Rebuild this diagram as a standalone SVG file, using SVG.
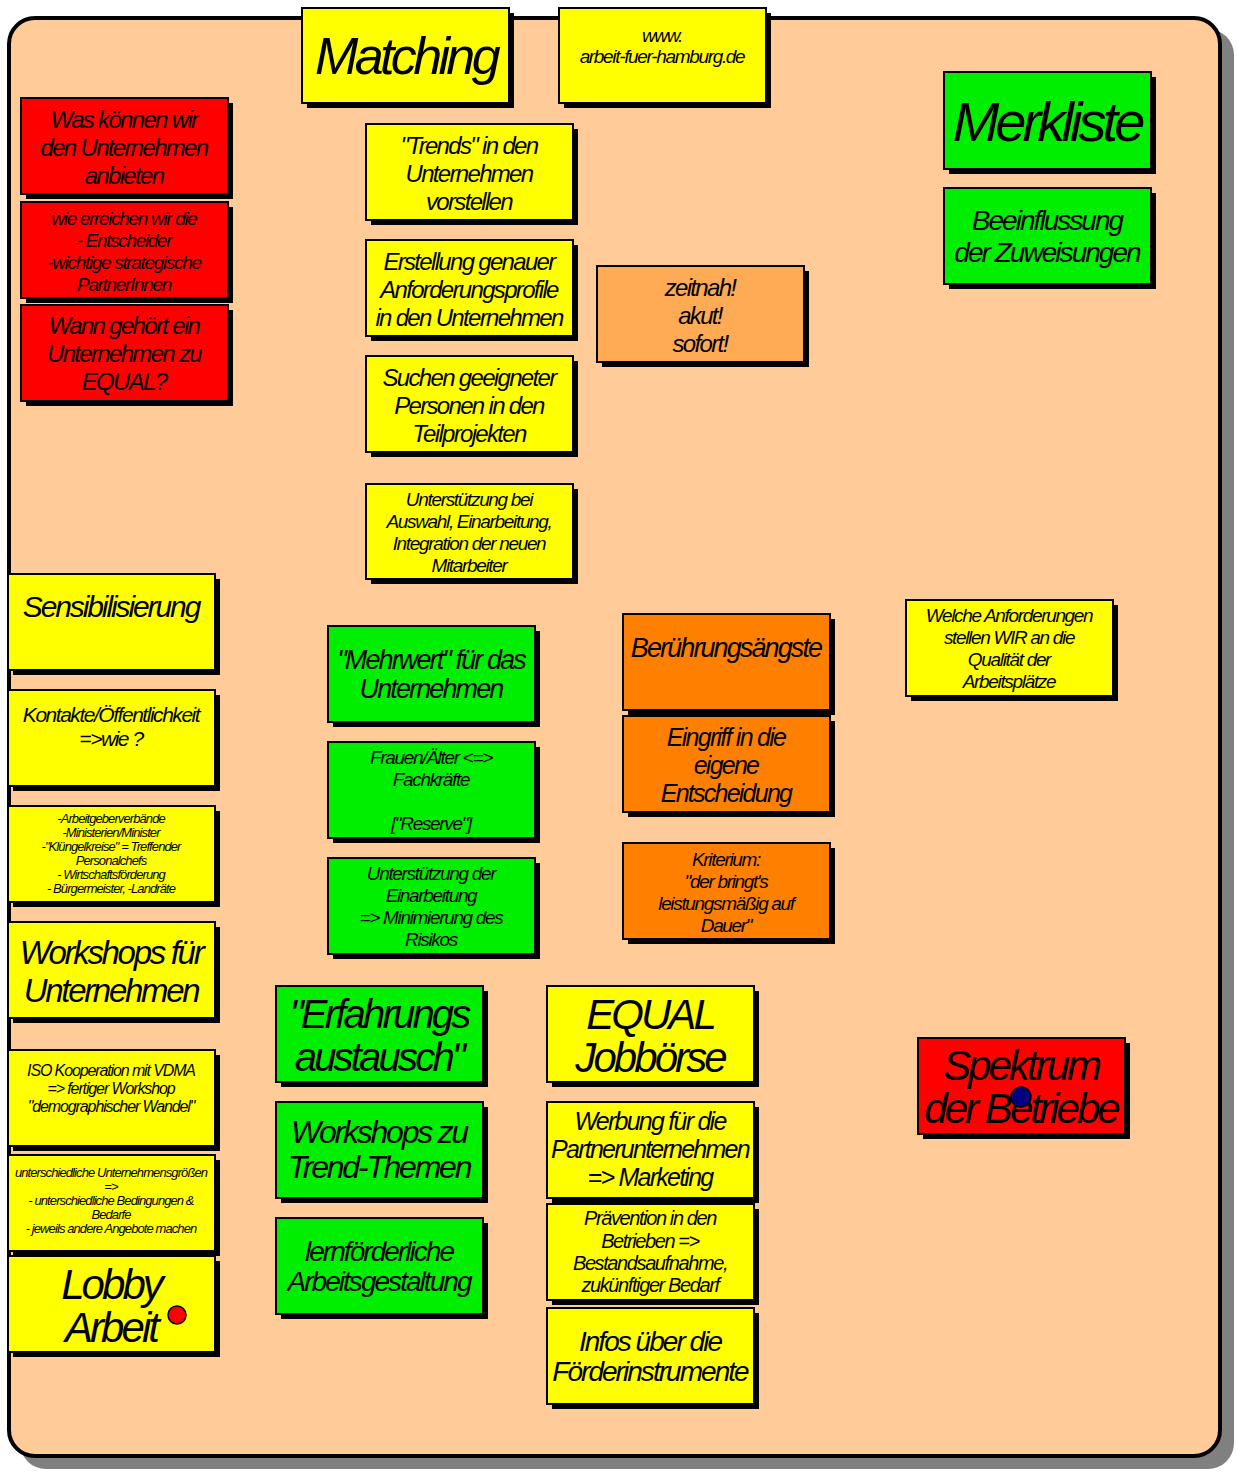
<svg xmlns="http://www.w3.org/2000/svg" width="1237" height="1473" viewBox="0 0 1237 1473">
<style>
text{font-family:"Liberation Sans",Arial,sans-serif;font-style:italic;text-anchor:middle;dominant-baseline:central;fill:#000;letter-spacing:-0.07em}
.sh{fill:#000}
.b{stroke:#000;stroke-width:2}
.y{fill:#FFFF00}
.g{fill:#00EE00}
.r{fill:#FF0000}
.o{fill:#FF8000}
.lo{fill:#FFAA55}
</style>
<rect x="20" y="29" width="1214" height="1440" rx="26" fill="#808080"/>
<rect x="9" y="18" width="1211" height="1438" rx="26" fill="#FFCC99" stroke="#000" stroke-width="4"/>

<g id="matching"><rect class="sh" x="307" y="13" width="207" height="95"/><rect class="b y" x="302" y="8" width="207" height="95"/><text x="406" y="56" font-size="52">Matching</text></g>
<g id="www"><rect class="sh" x="564" y="13" width="207" height="95"/><rect class="b y" x="559" y="8" width="207" height="95"/><text x="662" y="35" font-size="19">www.</text><text x="662" y="56" font-size="19">arbeit-fuer-hamburg.de</text></g>
<g id="merkliste"><rect class="sh" x="949" y="77" width="207" height="97"/><rect class="b g" x="944" y="72" width="207" height="97"/><text x="1047" y="121" font-size="56">Merkliste</text></g>
<g id="beeinflussung"><rect class="sh" x="949" y="193" width="207" height="96"/><rect class="b g" x="944" y="188" width="207" height="96"/><text x="1047" y="220" font-size="28">Beeinflussung</text><text x="1047" y="252" font-size="28">der Zuweisungen</text></g>

<g id="was-koennen"><rect class="sh" x="26" y="103" width="207" height="96"/><rect class="b r" x="21" y="98" width="207" height="96"/><text x="124" y="119" font-size="24">Was können wir</text><text x="124" y="147" font-size="24">den Unternehmen</text><text x="124" y="175" font-size="24">anbieten</text></g>
<g id="wie-erreichen"><rect class="sh" x="26" y="207" width="207" height="96"/><rect class="b r" x="21" y="202" width="207" height="96"/><text x="124" y="218" font-size="19">wie erreichen wir die</text><text x="124" y="240" font-size="19">- Entscheider</text><text x="124" y="262" font-size="19">-wichtige strategische</text><text x="124" y="284" font-size="19">PartnerInnen</text></g>
<g id="wann-gehoert"><rect class="sh" x="26" y="310" width="207" height="96"/><rect class="b r" x="21" y="305" width="207" height="96"/><text x="124" y="325" font-size="24">Wann gehört ein</text><text x="124" y="353" font-size="24">Unternehmen zu</text><text x="124" y="381" font-size="24">EQUAL?</text></g>

<g id="trends"><rect class="sh" x="371" y="129" width="207" height="96"/><rect class="b y" x="366" y="124" width="207" height="96"/><text x="469" y="145" font-size="24">"Trends" in den</text><text x="469" y="173" font-size="24">Unternehmen</text><text x="469" y="201" font-size="24">vorstellen</text></g>
<g id="erstellung"><rect class="sh" x="371" y="245" width="207" height="96"/><rect class="b y" x="366" y="240" width="207" height="96"/><text x="469" y="261" font-size="24">Erstellung genauer</text><text x="469" y="289" font-size="24">Anforderungsprofile</text><text x="469" y="317" font-size="24">in den Unternehmen</text></g>
<g id="zeitnah"><rect class="sh" x="602" y="271" width="207" height="96"/><rect class="b lo" x="597" y="266" width="207" height="96"/><text x="700" y="287" font-size="24">zeitnah!</text><text x="700" y="315" font-size="24">akut!</text><text x="700" y="343" font-size="24">sofort!</text></g>
<g id="suchen"><rect class="sh" x="371" y="361" width="207" height="96"/><rect class="b y" x="366" y="356" width="207" height="96"/><text x="469" y="377" font-size="24">Suchen geeigneter</text><text x="469" y="405" font-size="24">Personen in den</text><text x="469" y="433" font-size="24">Teilprojekten</text></g>
<g id="unterstuetzung-auswahl"><rect class="sh" x="371" y="489" width="207" height="95"/><rect class="b y" x="366" y="484" width="207" height="95"/><text x="469" y="499" font-size="19">Unterstützung bei</text><text x="469" y="521" font-size="19">Auswahl, Einarbeitung,</text><text x="469" y="543" font-size="19">Integration der neuen</text><text x="469" y="565" font-size="19">Mitarbeiter</text></g>

<g id="sensibilisierung"><rect class="sh" x="13" y="579" width="207" height="96"/><rect class="b y" x="8" y="574" width="207" height="96"/><text x="111" y="606" font-size="30">Sensibilisierung</text></g>
<g id="kontakte"><rect class="sh" x="13" y="695" width="207" height="96"/><rect class="b y" x="8" y="690" width="207" height="96"/><text x="111" y="714" font-size="21">Kontakte/Öffentlichkeit</text><text x="111" y="738" font-size="21">=&gt;wie ?</text></g>
<g id="arbeitgeber"><rect class="sh" x="13" y="811" width="207" height="96"/><rect class="b y" x="8" y="806" width="207" height="96"/><text x="111" y="818" font-size="13">-Arbeitgeberverbände</text><text x="111" y="832" font-size="13">-Ministerien/Minister</text><text x="111" y="846" font-size="13">-"Klüngelkreise" = Treffender</text><text x="111" y="860" font-size="13">Personalchefs</text><text x="111" y="874" font-size="13">- Wirtschaftsförderung</text><text x="111" y="888" font-size="13">- Bürgermeister, -Landräte</text></g>
<g id="workshops-unternehmen"><rect class="sh" x="13" y="927" width="207" height="96"/><rect class="b y" x="8" y="922" width="207" height="96"/><text x="111" y="952" font-size="33">Workshops für</text><text x="111" y="990" font-size="33">Unternehmen</text></g>
<g id="iso"><rect class="sh" x="13" y="1055" width="207" height="96"/><rect class="b y" x="8" y="1050" width="207" height="96"/><text x="111" y="1070" font-size="16">ISO Kooperation mit VDMA</text><text x="111" y="1088" font-size="16">=&gt; fertiger Workshop</text><text x="111" y="1106" font-size="16">"demographischer Wandel"</text></g>
<g id="unterschiedliche"><rect class="sh" x="13" y="1160" width="207" height="96"/><rect class="b y" x="8" y="1155" width="207" height="96"/><text x="111" y="1172" font-size="13">unterschiedliche Unternehmensgrößen</text><text x="111" y="1186" font-size="13">=&gt;</text><text x="111" y="1200" font-size="13">- unterschiedliche Bedingungen &amp;</text><text x="111" y="1214" font-size="13">Bedarfe</text><text x="111" y="1228" font-size="13">- jeweils andere Angebote machen</text></g>
<g id="lobby"><rect class="sh" x="13" y="1261" width="207" height="96"/><rect class="b y" x="8" y="1256" width="207" height="96"/><text x="111" y="1284" font-size="42">Lobby</text><text x="111" y="1327" font-size="42">Arbeit</text><circle cx="177" cy="1315" r="9" fill="#FF0000" stroke="#000" stroke-width="1.5"/></g>

<g id="mehrwert"><rect class="sh" x="333" y="631" width="207" height="96"/><rect class="b g" x="328" y="626" width="207" height="96"/><text x="431" y="660" font-size="27">"Mehrwert" für das</text><text x="431" y="689" font-size="27">Unternehmen</text></g>
<g id="frauen"><rect class="sh" x="333" y="747" width="207" height="96"/><rect class="b g" x="328" y="742" width="207" height="96"/><text x="431" y="757" font-size="19">Frauen/Älter &lt;=&gt;</text><text x="431" y="779" font-size="19">Fachkräfte</text><text x="431" y="823" font-size="19">["Reserve"]</text></g>
<g id="unterstuetzung-einarbeitung"><rect class="sh" x="333" y="863" width="207" height="96"/><rect class="b g" x="328" y="858" width="207" height="96"/><text x="431" y="873" font-size="19">Unterstützung der</text><text x="431" y="895" font-size="19">Einarbeitung</text><text x="431" y="917" font-size="19">=&gt; Minimierung des</text><text x="431" y="939" font-size="19">Risikos</text></g>

<g id="beruehrungsaengste"><rect class="sh" x="628" y="619" width="207" height="96"/><rect class="b o" x="623" y="614" width="207" height="96"/><text x="726" y="648" font-size="27">Berührungsängste</text></g>
<g id="eingriff"><rect class="sh" x="628" y="721" width="207" height="96"/><rect class="b o" x="623" y="716" width="207" height="96"/><text x="726" y="737" font-size="25">Eingriff in die</text><text x="726" y="765" font-size="25">eigene</text><text x="726" y="793" font-size="25">Entscheidung</text></g>
<g id="kriterium"><rect class="sh" x="628" y="848" width="207" height="96"/><rect class="b o" x="623" y="843" width="207" height="96"/><text x="726" y="859" font-size="19">Kriterium:</text><text x="726" y="881" font-size="19">"der bringt's</text><text x="726" y="903" font-size="19">leistungsmäßig auf</text><text x="726" y="925" font-size="19">Dauer"</text></g>
<g id="welche-anforderungen"><rect class="sh" x="911" y="605" width="207" height="96"/><rect class="b y" x="906" y="600" width="207" height="96"/><text x="1009" y="615" font-size="19">Welche Anforderungen</text><text x="1009" y="637" font-size="19">stellen WIR an die</text><text x="1009" y="659" font-size="19">Qualität der</text><text x="1009" y="681" font-size="19">Arbeitsplätze</text></g>

<g id="erfahrungsaustausch"><rect class="sh" x="281" y="991" width="207" height="96"/><rect class="b g" x="276" y="986" width="207" height="96"/><text x="379" y="1014" font-size="40">"Erfahrungs</text><text x="379" y="1057" font-size="40">austausch"</text></g>
<g id="workshops-trend"><rect class="sh" x="281" y="1107" width="207" height="96"/><rect class="b g" x="276" y="1102" width="207" height="96"/><text x="379" y="1132" font-size="32">Workshops zu</text><text x="379" y="1167" font-size="32">Trend-Themen</text></g>
<g id="lernfoerderliche"><rect class="sh" x="281" y="1223" width="207" height="96"/><rect class="b g" x="276" y="1218" width="207" height="96"/><text x="379" y="1251" font-size="28">lernförderliche</text><text x="379" y="1281" font-size="28">Arbeitsgestaltung</text></g>

<g id="equal-jobboerse"><rect class="sh" x="552" y="991" width="207" height="96"/><rect class="b y" x="547" y="986" width="207" height="96"/><text x="650" y="1014" font-size="42">EQUAL</text><text x="650" y="1057" font-size="42">Jobbörse</text></g>
<g id="werbung"><rect class="sh" x="552" y="1107" width="207" height="96"/><rect class="b y" x="547" y="1102" width="207" height="96"/><text x="650" y="1121" font-size="25">Werbung für die</text><text x="650" y="1149" font-size="25">Partnerunternehmen</text><text x="650" y="1177" font-size="25">=&gt; Marketing</text></g>
<g id="praevention"><rect class="sh" x="552" y="1209" width="207" height="96"/><rect class="b y" x="547" y="1204" width="207" height="96"/><text x="650" y="1218" font-size="20">Prävention in den</text><text x="650" y="1241" font-size="20">Betrieben =&gt;</text><text x="650" y="1263" font-size="20">Bestandsaufnahme,</text><text x="650" y="1285" font-size="20">zukünftiger Bedarf</text></g>
<g id="infos"><rect class="sh" x="552" y="1313" width="207" height="96"/><rect class="b y" x="547" y="1308" width="207" height="96"/><text x="650" y="1341" font-size="28">Infos über die</text><text x="650" y="1371" font-size="28">Förderinstrumente</text></g>

<g id="spektrum"><rect class="sh" x="923" y="1043" width="207" height="96"/><rect class="b r" x="918" y="1038" width="207" height="96"/><text x="1021" y="1065" font-size="42">Spektrum</text><text x="1021" y="1108" font-size="42">der Betriebe</text><circle cx="1021" cy="1097" r="10" fill="#000080" stroke="#000" stroke-width="1.5"/></g>

<g id="connectors"></g>
</svg>
